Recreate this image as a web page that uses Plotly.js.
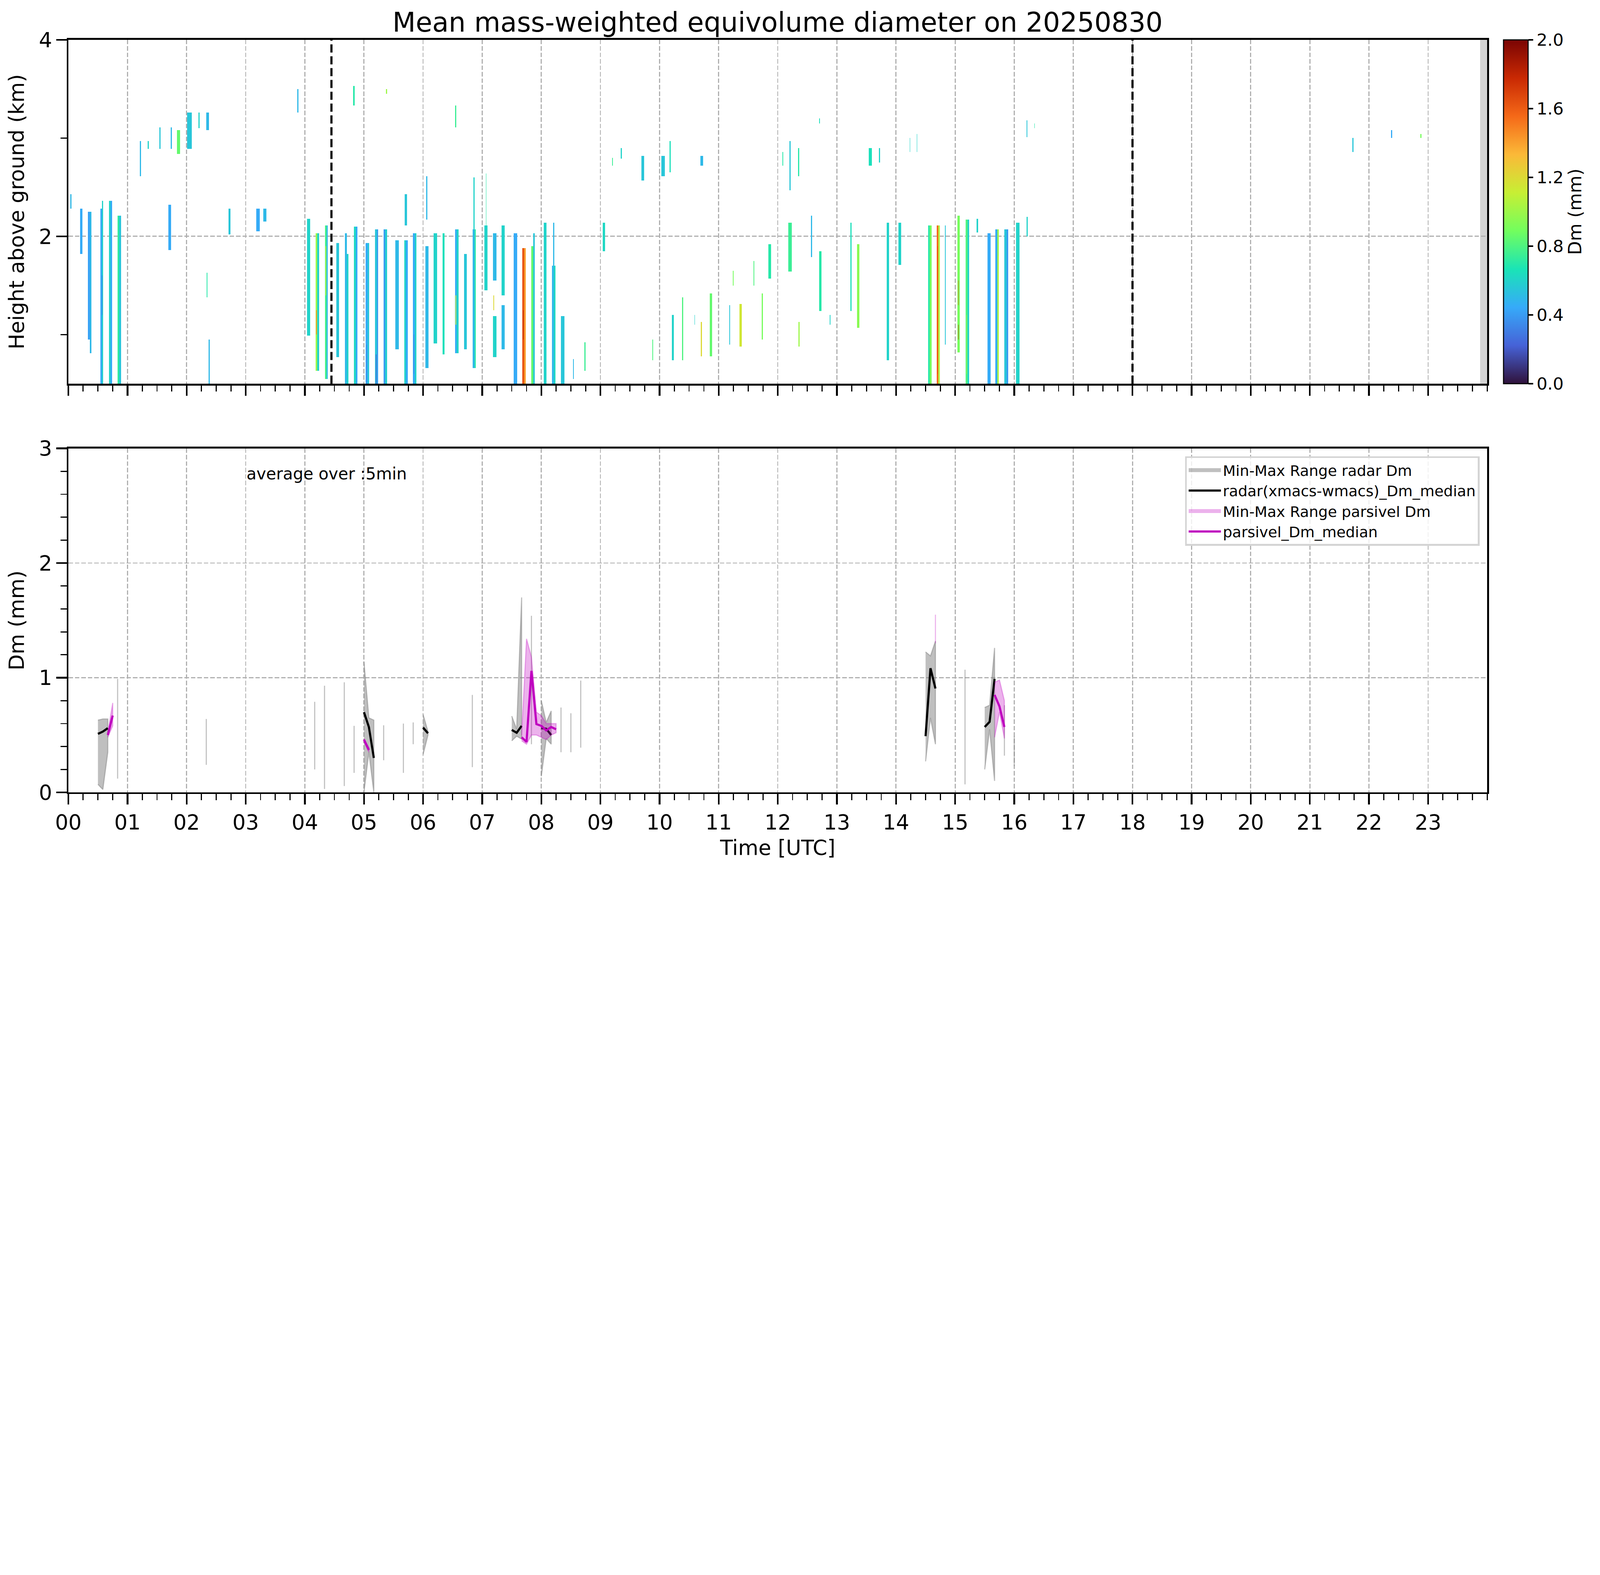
<!DOCTYPE html>
<html>
<head>
<meta charset="utf-8">
<script src="https://cdn.plot.ly/plotly-3.0.1.min.js"></script>
<style>
  html, body { margin: 0; padding: 0; background: #fff; overflow: hidden; }
</style>
</head>
<body>
<div id="chart"></div>
<script>
// hour ticks on the time axes
var hourTicks = [0,1,2,3,4,5,6,7,8,9,10,11,12,13,14,15,16,17,18,19,20,21,22,23];
var hourLabels = ['00','01','02','03','04','05','06','07','08','09','10','11',
                  '12','13','14','15','16','17','18','19','20','21','22','23'];

// radar Dm columns: [start hour, end hour, base km, top km, Dm mm]
var stripsNight = [
    [0.03,0.05,2.28,2.43,0.50],
    [0.20,0.24,1.82,2.28,0.45],
    [0.33,0.36,0.95,2.25,0.42],
    [0.36,0.39,0.81,2.25,0.50],
    [0.54,0.565,0.45,2.28,0.45],
    [0.565,0.59,0.45,2.36,0.60],
    [0.69,0.715,0.45,2.36,0.60],
    [0.715,0.74,0.45,2.36,0.45],
    [0.835,0.86,0.45,2.21,0.72],
    [0.86,0.89,0.45,2.21,0.55],
    [1.21,1.23,2.61,2.97,0.50],
    [1.34,1.36,2.89,2.97,0.60],
    [1.54,1.56,2.89,3.11,0.55],
    [1.73,1.75,2.89,3.11,0.50],
    [1.84,1.89,2.84,3.08,0.85],
    [2.01,2.09,2.89,3.26,0.55],
    [2.20,2.22,3.10,3.26,0.60],
    [2.33,2.38,3.08,3.26,0.50],
    [1.69,1.74,1.86,2.32,0.45],
    [2.34,2.35,1.38,1.63,0.70],
    [2.37,2.39,0.45,0.95,0.50],
    [2.71,2.74,2.02,2.28,0.55],
    [3.18,3.24,2.05,2.28,0.45],
    [3.30,3.35,2.15,2.28,0.50],
    [3.87,3.89,3.26,3.50,0.50]
];
var stripsMorning = [
    [4.04,4.09,0.99,2.18,0.60],
    [4.18,4.21,0.63,2.03,1.00],
    [4.21,4.24,0.63,2.03,0.60],
    [4.34,4.37,0.55,2.11,0.78],
    [4.37,4.39,0.55,2.11,0.50],
    [4.53,4.58,0.77,1.93,0.55],
    [4.68,4.71,0.45,2.03,0.50],
    [4.71,4.74,0.45,1.82,0.60],
    [4.82,4.84,3.33,3.53,0.70],
    [4.83,4.86,0.45,2.10,0.62],
    [4.86,4.89,0.45,2.10,0.45],
    [5.03,5.06,0.45,1.93,0.45],
    [5.06,5.09,0.45,1.93,0.55],
    [5.19,5.22,0.45,2.07,0.55],
    [5.22,5.24,0.45,2.07,0.40],
    [5.33,5.36,0.45,2.07,0.40],
    [5.36,5.39,0.45,2.07,0.58],
    [5.37,5.39,3.45,3.50,1.00],
    [5.53,5.59,0.85,1.96,0.50],
    [5.68,5.71,0.45,1.96,0.60],
    [5.71,5.74,0.45,1.96,0.45],
    [5.69,5.73,2.11,2.43,0.55],
    [5.83,5.86,0.45,2.03,0.45],
    [5.86,5.89,0.45,2.03,0.60],
    [6.04,6.09,0.66,1.90,0.50],
    [6.05,6.07,2.17,2.61,0.50],
    [6.18,6.24,0.91,2.03,0.60],
    [6.33,6.36,0.80,2.03,0.65],
    [6.54,6.56,3.11,3.33,0.75],
    [6.54,6.57,0.81,2.07,0.45],
    [6.57,6.60,0.81,2.07,0.60],
    [6.69,6.74,0.85,1.82,0.55],
    [6.84,6.87,0.66,2.07,0.50],
    [6.87,6.89,0.66,2.07,0.70],
    [6.85,6.87,2.07,2.60,0.60],
    [7.04,7.09,1.45,2.11,0.60],
    [7.06,7.07,2.11,2.64,0.70],
    [7.18,7.24,1.55,2.03,0.50],
    [7.18,7.24,0.77,1.19,0.60],
    [7.33,7.38,1.40,2.11,0.60],
    [7.33,7.38,0.85,1.30,0.50],
    [7.53,7.59,0.45,2.03,0.45],
    [7.68,7.71,0.45,1.88,1.62],
    [7.71,7.74,0.45,1.88,1.40],
    [7.83,7.86,0.45,1.90,0.85],
    [7.86,7.89,0.45,2.03,0.55],
    [8.04,8.09,0.45,2.14,0.60],
    [8.18,8.21,0.45,1.70,0.50],
    [8.21,8.24,0.45,1.70,0.62],
    [8.20,8.22,1.70,2.14,0.50],
    [8.33,8.39,0.45,1.19,0.55],
    [8.54,8.55,0.55,0.75,0.50],
    [8.73,8.75,0.63,0.92,0.75]
];
var stripsMidday = [
    [9.04,9.08,1.85,2.14,0.62],
    [9.20,9.21,2.72,2.80,0.75],
    [9.34,9.36,2.79,2.90,0.60],
    [9.69,9.74,2.57,2.82,0.55],
    [10.03,10.09,2.61,2.82,0.55],
    [10.17,10.19,2.65,2.97,0.65],
    [10.69,10.74,2.72,2.82,0.50],
    [9.88,9.89,0.74,0.95,0.80],
    [10.21,10.24,0.74,1.20,0.60],
    [10.38,10.40,0.74,1.38,0.80],
    [10.59,10.60,1.10,1.20,0.60],
    [10.70,10.72,0.78,1.13,1.20],
    [10.85,10.89,0.78,1.42,0.85],
    [11.18,11.19,0.90,1.30,0.55],
    [11.24,11.25,1.50,1.65,0.90],
    [11.35,11.39,0.88,1.31,1.15],
    [11.59,11.60,1.50,1.75,0.80],
    [11.73,11.75,0.95,1.42,0.90],
    [11.84,11.89,1.57,1.92,0.70],
    [12.08,12.09,2.72,2.86,0.70],
    [12.20,12.22,2.47,2.97,0.55],
    [12.34,12.36,2.61,2.90,0.70],
    [12.18,12.24,1.64,2.14,0.75],
    [12.35,12.37,0.88,1.13,1.00],
    [12.56,12.58,1.79,2.21,0.50],
    [12.70,12.74,1.24,1.85,0.70],
    [12.88,12.89,1.10,1.20,0.60],
    [12.70,12.71,3.15,3.20,0.65],
    [13.23,13.25,1.24,2.14,0.65],
    [13.34,13.38,1.07,1.92,0.95],
    [13.54,13.59,2.72,2.90,0.65],
    [13.71,13.73,2.75,2.90,0.60],
    [13.84,13.88,0.74,2.14,0.60]
];
var stripsAfternoon = [
    [14.04,14.09,1.71,2.14,0.60],
    [14.23,14.24,2.86,3.00,0.60],
    [14.35,14.36,2.86,3.04,0.60],
    [14.54,14.57,0.45,2.11,0.70],
    [14.57,14.60,0.45,2.11,0.90],
    [14.69,14.715,0.45,2.11,1.55],
    [14.715,14.74,0.45,2.11,1.05],
    [14.83,14.84,0.90,2.11,0.55],
    [15.04,15.08,0.82,2.21,0.90],
    [15.18,15.21,0.45,2.17,0.80],
    [15.21,15.24,0.45,2.17,0.60],
    [15.36,15.39,2.04,2.18,0.60],
    [15.55,15.60,0.45,2.03,0.45],
    [15.68,15.71,0.45,2.07,0.45],
    [15.71,15.74,0.45,2.07,1.00],
    [15.83,15.87,0.45,2.07,0.55],
    [15.87,15.90,0.45,2.07,0.40],
    [16.03,16.09,0.45,2.14,0.60],
    [16.21,16.22,3.01,3.18,0.55],
    [16.21,16.23,2.00,2.20,0.60],
    [16.34,16.35,3.10,3.15,0.70],
    [21.72,21.74,2.86,3.00,0.55],
    [22.37,22.39,3.00,3.08,0.45],
    [22.87,22.89,3.00,3.04,0.90]
];
// small pockets inside the columns, drawn on top
var stripsDetail = [
    [0.565,0.575,1.20,1.60,0.30],
    [4.19,4.20,1.00,1.25,1.45],
    [4.35,4.36,1.40,1.90,1.05],
    [5.04,5.05,0.50,0.90,0.30],
    [5.20,5.21,0.50,0.80,0.25],
    [5.84,5.85,0.60,1.00,0.30],
    [6.55,6.56,1.10,1.40,1.10],
    [7.69,7.70,0.95,1.25,1.85],
    [7.19,7.20,1.25,1.40,1.20],
    [14.70,14.71,0.60,1.90,1.65],
    [15.05,15.06,1.30,1.55,1.60],
    [15.05,15.06,0.95,1.10,1.75],
    [15.19,15.20,0.60,1.20,1.05],
    [15.72,15.74,0.45,1.80,1.05]
];

// 5-min statistics, null = no data
var radarTime = [0.500,0.583,0.667,0.750,0.833,0.917,2.333,2.417,4.167,4.250,4.333,4.417,
                 4.667,4.750,4.833,4.917,5.000,5.083,5.167,5.250,5.333,5.417,5.667,5.750,
                 5.833,5.917,6.000,6.083,6.167,6.833,6.917,7.500,7.583,7.667,7.750,7.833,
                 7.917,8.000,8.083,8.167,8.250,8.333,8.417,8.500,8.583,8.667,8.750,
                 14.500,14.583,14.667,14.750,15.167,15.250,15.500,15.583,15.667,15.750,
                 15.833,15.917,16.000];
var radarMedian = [0.51,0.53,0.56,null,null,null,null,null,null,null,null,null,
                   null,null,null,null,0.70,0.57,0.30,null,null,null,null,null,
                   null,null,0.565,0.515,null,null,null,0.545,0.52,0.58,null,null,
                   null,0.56,0.555,0.50,null,null,null,null,null,null,null,
                   0.49,1.083,0.906,null,null,null,0.57,0.615,0.99,null,
                   null,null,null];
var radarMin = [0.07,0.025,0.35,null,0.12,null,0.24,null,0.20,null,0.03,null,
                0.055,null,0.17,null,0.00,0.35,0.00,null,0.28,null,0.17,null,
                0.42,null,0.33,0.50,null,0.22,null,0.45,0.49,0.465,null,0.42,
                null,0.14,0.47,0.42,null,0.35,null,0.35,null,0.39,null,
                0.27,0.65,0.42,null,0.07,null,0.20,0.55,0.10,null,
                0.32,null,0.23];
var radarMax = [0.63,0.64,0.64,null,0.99,null,0.64,null,0.79,null,0.93,null,
                0.96,null,0.58,null,1.14,0.65,0.63,null,0.585,null,0.60,null,
                0.61,null,0.68,0.53,null,0.85,null,0.665,0.55,1.70,null,1.54,
                null,0.80,0.61,0.71,null,0.74,null,0.69,null,0.975,null,
                1.225,1.19,1.32,null,1.07,null,0.74,0.76,1.26,null,
                0.76,null,0.49];

var parsTime = [0.667,0.750,0.833,5.000,5.083,5.167,7.667,7.750,7.833,7.917,8.000,
                8.083,8.167,8.250,8.333,14.667,14.750,15.667,15.750,15.833];
var parsMedian = [0.50,0.67,null,0.46,0.37,null,0.48,0.44,1.06,0.595,0.58,
                  0.54,0.57,0.55,null,null,null,0.85,0.75,0.57];
var parsMin = [0.48,0.58,null,0.44,0.35,null,0.45,0.42,0.50,0.50,0.48,
               0.46,0.50,0.52,null,1.30,null,0.48,0.70,0.47];
var parsMax = [0.52,0.78,null,0.47,0.39,null,0.50,1.34,1.18,0.70,0.67,
               0.60,0.60,0.60,null,1.55,null,0.96,0.98,0.80];

var markerHours = [4.45, 18.0];   // dashed reference lines
var noDataFrom = 23.88;           // grey block at the end of the day

var turbo = [[0,'#30123b'],[1/9,'#4662d7'],[2/9,'#36aaf9'],[3/9,'#1ae4b6'],[4/9,'#72fe5e'],
             [5/9,'#c7ef34'],[6/9,'#fbb938'],[7/9,'#f56918'],[8/9,'#c92903'],[1,'#7a0403']];

var FONT = 'DejaVu Sans';
var GREY_BAND = 'rgba(128,128,128,0.5)';
var PINK_BAND = 'rgba(191,0,191,0.3)';

// everything was measured on a 7442 px wide figure; scale to whatever the window is
var S = Math.min(window.innerWidth / 7442, window.innerHeight / 4031);
function px(v) { return v * S; }
function dash(a, b) { return px(a) + 'px,' + px(b) + 'px'; }

var strips = stripsNight.concat(stripsMorning, stripsMidday, stripsAfternoon, stripsDetail);
var radarBars = {
    type: 'bar',
    x: strips.map(s => (s[0] + s[1]) / 2),
    width: strips.map(s => s[1] - s[0]),
    base: strips.map(s => s[2]),
    y: strips.map(s => s[3] - s[2]),
    xaxis: 'x', yaxis: 'y',
    showlegend: false,
    hoverinfo: 'skip',
    marker: {
        color: strips.map(s => s[4]),
        colorscale: turbo, cmin: 0, cmax: 2,
        line: {width: 0},
        showscale: true,
        colorbar: {
            x: 0.9397, xanchor: 'left', xpad: 0,
            y: 0.9541, yanchor: 'top', ypad: 0,
            len: 0.3967, lenmode: 'fraction',
            thickness: px(114), thicknessmode: 'pixels',
            outlinewidth: px(5), outlinecolor: '#000',
            tickmode: 'array',
            tickvals: [0, 0.4, 0.8, 1.2, 1.6, 2.0],
            ticktext: ['0.0', '0.4', '0.8', '1.2', '1.6', '2.0'],
            ticks: 'outside', ticklen: px(22), tickwidth: px(6), tickcolor: '#000',
            tickfont: {family: FONT, size: px(79), color: '#000'},
            title: {text: 'Dm (mm)', side: 'right', font: {family: FONT, size: px(84), color: '#000'}}
        }
    }
};

// split a min/max band at the gaps and close every run into its own polygon
function bandOutline(t, lo, hi) {
    var xs = [], ys = [], run = [];
    function flush() {
        if (run.length) {
            run.forEach(i => { xs.push(t[i]); ys.push(hi[i]); });
            run.slice().reverse().forEach(i => { xs.push(t[i]); ys.push(lo[i]); });
            xs.push(null); ys.push(null);
        }
        run = [];
    }
    for (var i = 0; i < t.length; i++) {
        if (lo[i] === null || hi[i] === null) flush(); else run.push(i);
    }
    flush();
    return {x: xs, y: ys};
}

// legend-only key: a thick stroke in the band colour reads as a filled patch
function patchKey(name, color, rank) {
    return {
        type: 'scatter', mode: 'lines', x: [null], y: [null], xaxis: 'x2', yaxis: 'y2',
        name: name, legendrank: rank, hoverinfo: 'skip',
        line: {color: color, width: px(55)}
    };
}

var radarBand = bandOutline(radarTime, radarMin, radarMax);
var parsBand = bandOutline(parsTime, parsMin, parsMax);

var traces = [
    radarBars,
    {
        type: 'scatter', mode: 'lines', x: radarBand.x, y: radarBand.y,
        xaxis: 'x2', yaxis: 'y2', fill: 'toself',
        fillcolor: GREY_BAND, line: {color: GREY_BAND, width: px(5)},
        showlegend: false, hoverinfo: 'skip'
    },
    {
        type: 'scatter', mode: 'lines', x: radarTime, y: radarMedian,
        xaxis: 'x2', yaxis: 'y2', connectgaps: false,
        line: {color: '#000', width: px(10)},
        name: 'radar(xmacs-wmacs)_Dm_median', legendrank: 2
    },
    {
        type: 'scatter', mode: 'lines', x: parsBand.x, y: parsBand.y,
        xaxis: 'x2', yaxis: 'y2', fill: 'toself',
        fillcolor: PINK_BAND, line: {color: PINK_BAND, width: px(5)},
        showlegend: false, hoverinfo: 'skip'
    },
    {
        type: 'scatter', mode: 'lines', x: parsTime, y: parsMedian,
        xaxis: 'x2', yaxis: 'y2', connectgaps: false,
        line: {color: '#bf00bf', width: px(10)},
        name: 'parsivel_Dm_median', legendrank: 4
    },
    patchKey('Min-Max Range radar Dm', GREY_BAND, 1),
    patchKey('Min-Max Range parsivel Dm', PINK_BAND, 3)
];

var tickFont = {family: FONT, size: px(97), color: '#000'};
var gridStyle = {showgrid: true, gridcolor: '#b0b0b0', gridwidth: px(5), griddash: dash(21, 9)};
var majorTicks = {ticks: 'outside', ticklen: px(48), tickwidth: px(8), tickcolor: '#000'};
function minorTicks(extra) {
    return Object.assign({ticks: 'outside', ticklen: px(28), tickwidth: px(5), tickcolor: '#000', showgrid: false}, extra);
}
var frame = {showline: true, linecolor: '#000', linewidth: px(8), mirror: true, zeroline: false, automargin: false};

function timeAxis(anchor, labels) {
    return Object.assign({
        domain: [0.04273, 0.9295], anchor: anchor, range: [0, 24],
        tickmode: 'array', tickvals: hourTicks, ticktext: hourLabels,
        showticklabels: labels, tickfont: tickFont,
        minor: minorTicks({dtick: 0.25, tick0: 0})
    }, majorTicks, frame, gridStyle);
}

var layout = {
    width: px(7442), height: px(4031),
    margin: {l: 0, r: 0, t: 0, b: 0},
    paper_bgcolor: '#fff', plot_bgcolor: '#fff',
    font: {family: FONT, color: '#000'},
    barmode: 'overlay', bargap: 0,
    title: {
        text: 'Mean mass-weighted equivolume diameter on 20250830',
        x: 0.486, xanchor: 'center', y: 0.9744, yanchor: 'middle',
        font: {family: FONT, size: px(125), color: '#000'}
    },
    xaxis: timeAxis('y', false),
    xaxis2: Object.assign(timeAxis('y2', true), {
        title: {text: 'Time [UTC]', font: tickFont, standoff: px(30)}
    }),
    yaxis: Object.assign({
        domain: [0.5574, 0.9541], anchor: 'x', range: [0.5, 4],
        tickmode: 'array', tickvals: [2, 4], ticktext: ['2', '4'], tickfont: tickFont,
        minor: minorTicks({tickmode: 'array', tickvals: [1, 3]}),
        title: {text: 'Height above ground (km)', font: tickFont, standoff: px(40)}
    }, majorTicks, frame, gridStyle),
    yaxis2: Object.assign({
        domain: [0.0861, 0.4828], anchor: 'x2', range: [0, 3],
        tickmode: 'array', tickvals: [0, 1, 2, 3], ticktext: ['0', '1', '2', '3'], tickfont: tickFont,
        minor: minorTicks({dtick: 0.2, tick0: 0}),
        title: {text: 'Dm (mm)', font: tickFont, standoff: px(40)}
    }, majorTicks, frame, gridStyle),
    legend: {
        x: 0.9247, xanchor: 'right', y: 0.4738, yanchor: 'top',
        bgcolor: 'rgba(255,255,255,0.8)', bordercolor: '#d4d4d4', borderwidth: px(8),
        font: {family: FONT, size: px(69), color: '#000'},
        itemwidth: Math.max(30, px(150)), tracegroupgap: 0, traceorder: 'normal'
    },
    shapes: markerHours.map(h => ({
        type: 'line', xref: 'x', yref: 'y domain', x0: h, x1: h, y0: 0, y1: 1,
        line: {color: '#000', width: px(10), dash: dash(38, 17)}
    })).concat([{
        type: 'rect', xref: 'x', yref: 'y domain', x0: noDataFrom, x1: 24, y0: 0, y1: 1,
        fillcolor: '#d3d3d3', line: {width: 0}, layer: 'below'
    }]),
    annotations: [{
        text: 'average over :5min', xref: 'x2', yref: 'y2', x: 3.0, y: 2.78,
        xanchor: 'left', yanchor: 'middle', showarrow: false,
        font: {family: FONT, size: px(76), color: '#000'}
    }]
};

Plotly.newPlot('chart', traces, layout, {staticPlot: true, displayModeBar: false});
</script>
</body>
</html>
